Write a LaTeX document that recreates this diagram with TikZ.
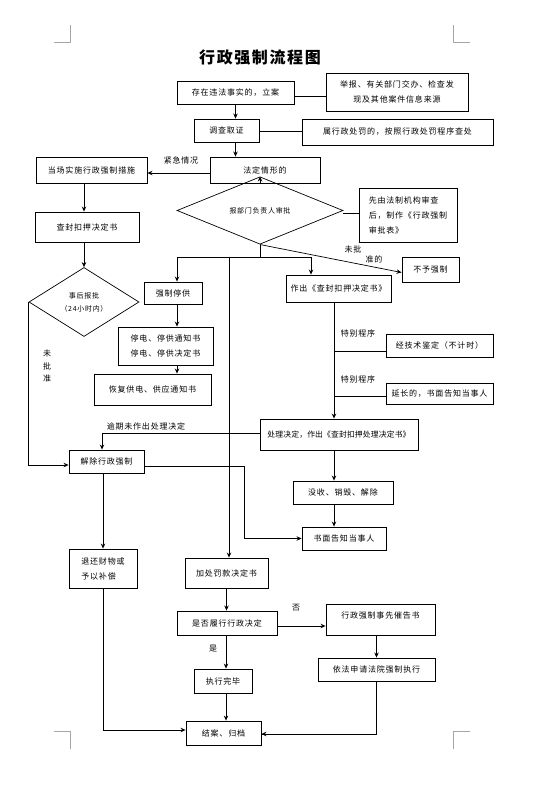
\documentclass[tikz,border=0pt]{standalone}
\usepackage{fontspec}
\setmainfont{Noto Sans CJK SC}[LetterSpace=10]
\usetikzlibrary{shapes.geometric,arrows.meta}

\tikzset{
  box/.style 2 args={draw,line width=0.9pt,minimum width=#1pt,minimum height=#2pt,
    inner sep=1pt,align=center,font=\fontsize{8}{15}\selectfont},
  choice/.style 2 args={draw,diamond,line width=0.7pt,minimum width=#1pt,minimum height=#2pt,
    inner sep=0pt,align=center,font=\fontsize{7}{13}\selectfont},
  note/.style={inner sep=0pt,font=\fontsize{8}{12.5}\selectfont},
  link/.style={line width=0.7pt,->},
  plain/.style={line width=0.7pt},
  corner/.style={gray!70,line width=0.6pt}
}

\begin{document}
\begin{tikzpicture}[x=1pt,y=-1pt,>={Stealth[length=5pt,width=4.5pt]}]
\useasboundingbox (0,0) rectangle (558,791);
\fill[white] (0,0) rectangle (558,791);

% page corners
\draw[corner] (54,42) -- (70,42) -- (70,25);
\draw[corner] (470,42) -- (453,42) -- (453,25);
\draw[corner] (54,731) -- (70,731) -- (70,749);
\draw[corner] (470,731) -- (453,731) -- (453,749);

\node[font=\fontsize{16}{16}\selectfont\bfseries] (title) at (260,57) {行政强制流程图};

% main column
\node[box={117}{23}] (case) at (235.5,92.5) {存在违法事实的，立案};
\node[box={142}{38}] (source) at (397,92) {举报、有关部门交办、检查发\\现及其他案件信息来源};
\node[box={65}{23}] (invest) at (226.5,130.5) {调查取证};
\node[box={191}{26}] (penalty) at (397.5,132) {属行政处罚的，按照行政处罚程序查处};
\node[box={111}{26}] (onsite) at (91.5,170) {当场实施行政强制措施};
\node[box={110}{26}] (legal) at (265,170) {法定情形的};
\node[choice={166}{37}] (approve) at (260,210.5) {报部门负责人审批};
\node[box={98}{54},align=left] (review) at (408,215) {先由法制机构审查\\后，制作《行政强制\\审批表》};
\node[box={104}{30}] (seal) at (87,227) {查封扣押决定书};
\node[choice={110}{69}] (report) at (84,302) {事后报批\\（24小时内）};
\node[box={57}{25}] (refuse) at (430.5,269.5) {不予强制};

% branches below the approval
\node[box={58}{22}] (stop) at (173,293) {强制停供};
\node[box={95}{38}] (notice) at (165.5,346) {停电、停供通知书\\停电、停供决定书};
\node[box={117}{31}] (restore) at (152.5,389.5) {恢复供电、供应通知书};
\node[box={105}{27}] (decide) at (338.5,288.5) {作出《查封扣押决定书》};
\node[box={107}{23}] (tech) at (439.5,345.5) {经技术鉴定（不计时）};
\node[box={107}{21}] (extend) at (439.5,394) {延长的，书面告知当事人};
\node[box={158}{31},font=\fontsize{7.8}{15}\selectfont\addfontfeatures{LetterSpace=2}] (handle) at (339,434.5) {处理决定，作出《查封扣押处理决定书》};
\node[box={75}{23}] (release) at (106.5,461.5) {解除行政强制};
\node[box={100}{23}] (confisc) at (343,492.5) {没收、销毁、解除};
\node[box={84}{23}] (inform) at (344,538.5) {书面告知当事人};
\node[box={68}{39},align=left] (refund) at (103,568.5) {退还财物或\\予以补偿};

% fines and enforcement
\node[box={83}{30}] (fine) at (226.5,573) {加处罚款决定书};
\node[box={100}{24}] (perform) at (227,623) {是否履行行政决定};
\node[box={109}{31},text depth=9pt] (urge) at (380.5,619.5) {行政强制事先催告书};
\node[box={117}{23}] (court) at (376.5,669.5) {依法申请法院强制执行};
\node[box={58}{24}] (done) at (223,681) {执行完毕};
\node[box={75}{24}] (close) at (223.5,733) {结案、归档};

% labels on the lines
\node[note] (lurgent) at (181,160) {紧急情况};
\node[note] (lnot1) at (353,249) {未批};
\node[note] (lnot2) at (374,259) {准的};
\node[note] (lspec1) at (358,333) {特别程序};
\node[note] (lspec2) at (358,379) {特别程序};
\node[note] (loverdue) at (146,426) {逾期未作出处理决定};
\node[note,align=center] (lnot3) at (47,366) {未\\批\\准};
\node[note] (lno) at (296,608) {否};
\node[note] (lyes) at (213,649) {是};

% split points
\coordinate (bar) at (260,257);
\coordinate (barL) at (177,257);
\coordinate (barM) at (229,257);
\coordinate (barR) at (311,257);
\coordinate (spine) at (334,302);

% connectors
\draw[plain] ([yshift=-3.5pt]case.east) -- ([yshift=-3.5pt]case.east -| source.west);
\draw[link] (case.south) -- (case.south |- invest.north);
\draw[plain] ([yshift=-1pt]invest.east) -- ([yshift=-1pt]invest.east -| penalty.west);
\draw[link] (case.south |- invest.south) -- (case.south |- legal.north);
\draw[link] ([yshift=-3pt]legal.west) -- ([yshift=-3pt]legal.west -| onsite.east);
\draw[link] (approve.north |- legal.south) -- (approve.north);
\draw[plain] ([yshift=-2.5pt]approve.east) -- ([yshift=-2.5pt]approve.east -| review.west);
\draw[link] (approve.south) -- ([yshift=-3pt]refuse.west);
\draw[plain] (approve.south) -- (bar);
\draw[plain] (barL) -- (barR);
\draw[link] (barL) -- (barL |- stop.north);
\draw[link] (barR) -- (barR |- decide.north);
\draw[link] (barM) -- (barM |- fine.north);
\draw[link] (report.north |- onsite.south) -- (report.north |- seal.north);
\draw[link] (report.north |- seal.south) -- (report.north);
\draw[link] (barL |- stop.south) -- (barL |- notice.north);
\draw[link] (barL |- notice.south) -- (barL |- restore.north);
\draw[link] (spine) -- (spine |- handle.north);
\draw[plain] ([yshift=-5.5pt]tech.west -| spine) -- ([yshift=-5.5pt]tech.west);
\draw[plain] ([yshift=-2pt]extend.west -| spine) -- ([yshift=-2pt]extend.west);
\draw[link] ([yshift=1.5pt]handle.west) -| ([xshift=-4.5pt]release.north);
\draw[link] (report.west) |- ([yshift=-3.5pt]release.west);
\draw[link] ([yshift=-4.5pt]release.east) -- ++(100,0) |- (inform.west);
\draw[link] (spine |- handle.south) -- (spine |- confisc.north);
\draw[link] (spine |- confisc.south) -- (spine |- inform.north);
\draw[link] (refund.north |- release.south) -- (refund.north);
\draw[link] (refund.south) |- ([yshift=3pt]close.west);
\draw[link] (fine.south) -- (fine.south |- perform.north);
\draw[link] ([yshift=-3pt]perform.east) -- ([yshift=-3pt]perform.east -| urge.west);
\draw[link] (court.north |- urge.south) -- (court.north);
\draw[link] ([xshift=-1pt]perform.south) -- ([xshift=-1pt]perform.south |- done.north);
\draw[link] ([xshift=-1pt]perform.south |- done.south) -- ([xshift=-1pt]perform.south |- close.north);
\draw[plain] (court.south) |- ([yshift=-1pt]close.east);
\draw[->,line width=0.7pt] ([yshift=-1pt]close.east -| court.south) -- ([yshift=-1pt]close.east);
\end{tikzpicture}
\end{document}
